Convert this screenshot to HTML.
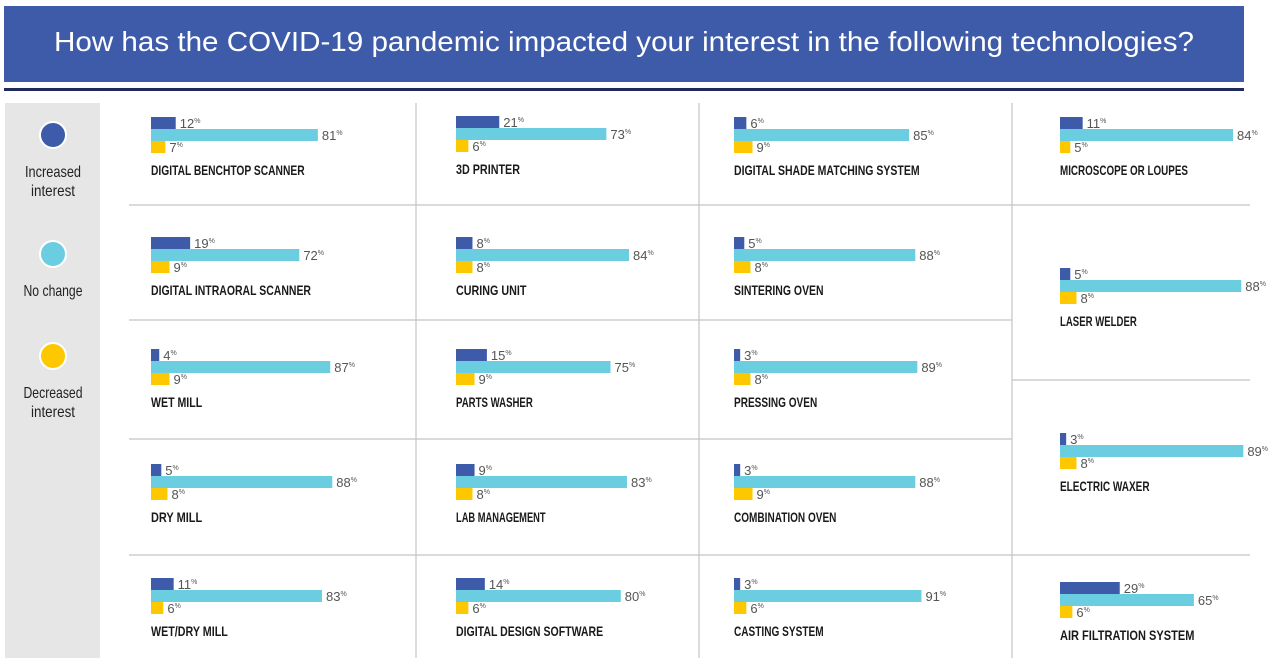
<!DOCTYPE html>
<html><head><meta charset="utf-8"><style>
body{margin:0;background:#fff;width:1272px;height:667px;overflow:hidden}
svg{display:block;font-family:"Liberation Sans",sans-serif}
</style></head><body>
<svg id="chart" width="1272" height="667">
<rect x="4" y="6" width="1240" height="76" fill="#3e5ba9"/>
<text x="624" y="51" fill="#fff" font-size="28" text-anchor="middle" textLength="1140" lengthAdjust="spacingAndGlyphs">How has the COVID-19 pandemic impacted your interest in the following technologies?</text>
<rect x="4" y="88" width="1240" height="3" fill="#1f2b5c"/>
<rect x="5" y="103" width="95" height="555" fill="#e6e6e6"/>
<g>
<circle cx="53" cy="135" r="13" fill="#3e5ba9" stroke="#fff" stroke-width="2"/>
<text x="53" y="177" font-size="16" fill="#222" text-anchor="middle" textLength="56" lengthAdjust="spacingAndGlyphs">Increased</text>
<text x="53" y="196" font-size="16" fill="#222" text-anchor="middle" textLength="44" lengthAdjust="spacingAndGlyphs">interest</text>
</g>
<g>
<circle cx="53" cy="254" r="13" fill="#6bcde0" stroke="#fff" stroke-width="2"/>
<text x="53" y="296" font-size="16" fill="#222" text-anchor="middle" textLength="59" lengthAdjust="spacingAndGlyphs">No change</text>
</g>
<g>
<circle cx="53" cy="356" r="13" fill="#fec800" stroke="#fff" stroke-width="2"/>
<text x="53" y="398" font-size="16" fill="#222" text-anchor="middle" textLength="59" lengthAdjust="spacingAndGlyphs">Decreased</text>
<text x="53" y="417" font-size="16" fill="#222" text-anchor="middle" textLength="44" lengthAdjust="spacingAndGlyphs">interest</text>
</g>
<g id="grid" stroke="#c4c4c4" stroke-width="1.2">
<line x1="416" y1="103" x2="416" y2="658"/><line x1="699" y1="103" x2="699" y2="658"/><line x1="1012" y1="103" x2="1012" y2="658"/>
<line x1="129" y1="205" x2="1012" y2="205"/><line x1="129" y1="320" x2="1012" y2="320"/><line x1="129" y1="439" x2="1012" y2="439"/><line x1="129" y1="555" x2="1012" y2="555"/>
<line x1="1012" y1="205" x2="1250" y2="205"/><line x1="1012" y1="380" x2="1250" y2="380"/><line x1="1012" y1="555" x2="1250" y2="555"/>
</g>
<g id="cells"></g>
</svg>
<script>
const labels=["DIGITAL BENCHTOP SCANNER","3D PRINTER","DIGITAL SHADE MATCHING SYSTEM","MICROSCOPE OR LOUPES",
"DIGITAL INTRAORAL SCANNER","CURING UNIT","SINTERING OVEN",
"WET MILL","PARTS WASHER","PRESSING OVEN","LASER WELDER",
"DRY MILL","LAB MANAGEMENT","COMBINATION OVEN","ELECTRIC WAXER",
"WET/DRY MILL","DIGITAL DESIGN SOFTWARE","CASTING SYSTEM","AIR FILTRATION SYSTEM"];
const increased=[12,21,6,11,19,8,5,4,15,3,5,5,9,3,3,11,14,3,29];
const noChange=[81,73,85,84,72,84,88,87,75,89,88,88,83,88,89,83,80,91,65];
const decreased=[7,6,9,5,9,8,8,9,9,8,8,8,8,9,8,6,6,6,6];
// layout (not data)
const cellX=[151,456,734,1060,151,456,734,151,456,734,1060,151,456,734,1060,151,456,734,1060];
const cellY=[117,116,117,117,237,237,237,349,349,349,268,464,464,464,433,578,578,578,582];
const S=2.06;
const colors=["#3e5ba9","#6bcde0","#fec800"];
const names=["increased","no-change","decreased"];
const g=document.getElementById('cells');
const NS="http://www.w3.org/2000/svg";
function mk(t,a){const e=document.createElementNS(NS,t);for(const k in a)e.setAttribute(k,a[k]);return e;}
labels.forEach((lab,i)=>{
  const cg=mk('g',{});
  
  
  const vals=[increased[i],noChange[i],decreased[i]];
  vals.forEach((v,j)=>{
    const y=cellY[i]+j*12, w=v*S;
    const r=mk('rect',{x:cellX[i],y:y,width:w,height:12,fill:colors[j]});
    
    
    cg.appendChild(r);
    const t=mk('text',{x:cellX[i]+w+4,y:y+11,'font-size':13,fill:'#555'});
    
    
    t.textContent=v;
    const s=mk('tspan',{'font-size':7,dy:-5});s.textContent='%';t.appendChild(s);
    cg.appendChild(t);
  });
  const lt=mk('text',{x:cellX[i],y:cellY[i]+58,'font-size':14,'font-weight':'bold',fill:'#1a1a1a',textLength:lab.length*6.4,lengthAdjust:'spacingAndGlyphs'});
  
  
  lt.textContent=lab;
  cg.appendChild(lt);
  g.appendChild(cg);
});
</script>
</body></html>
